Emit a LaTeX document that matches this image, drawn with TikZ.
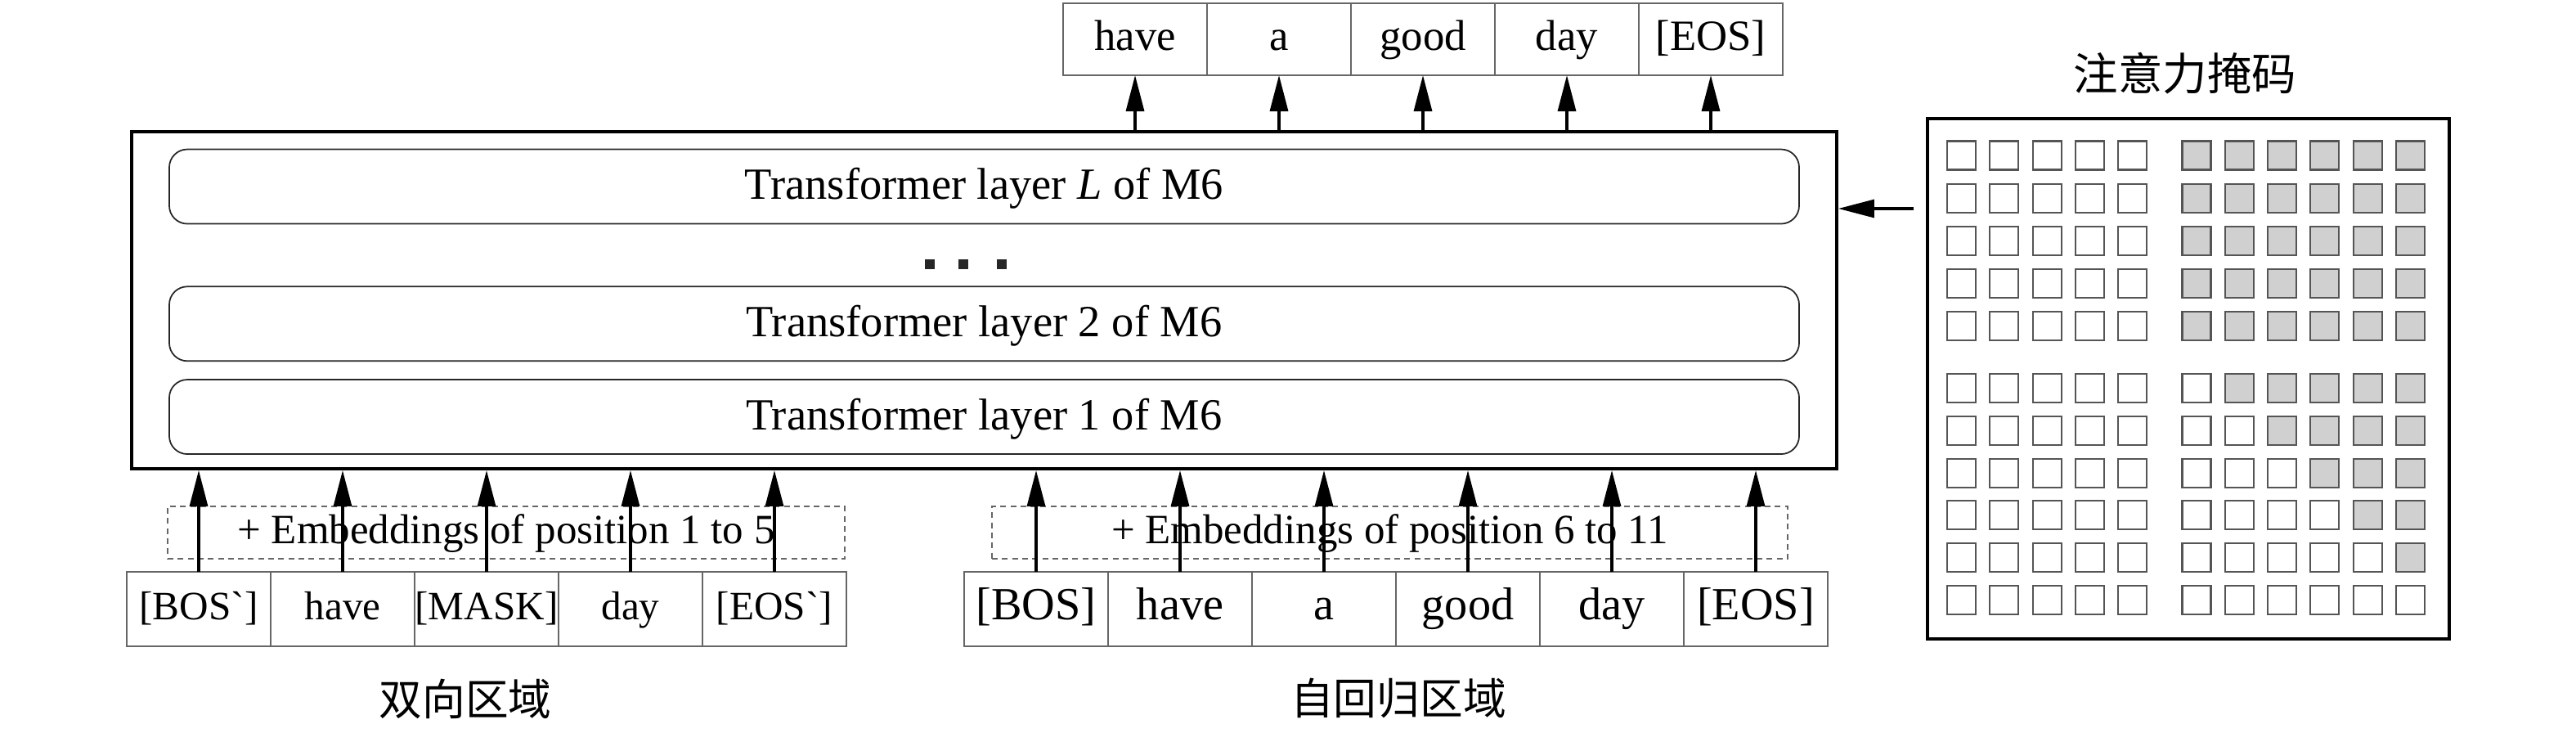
\documentclass[tikz,border=0pt]{standalone}
\usepackage{fontspec}
\setmainfont{Liberation Serif}
\newfontfamily\cjk{Noto Sans CJK SC}
\usetikzlibrary{arrows.meta, positioning, calc}

\definecolor{maskgray}{RGB}{208,208,208}
\definecolor{cellline}{RGB}{85,85,85}

\begin{document}
\begin{tikzpicture}[
    model/.style={draw, line width=1.1pt, inner sep=0pt, minimum width=20.85cm, minimum height=4.12cm},
    layerbox/.style={draw=black!85, line width=0.5pt, rounded corners=0.22cm, inner sep=0pt,
        minimum width=19.93cm, minimum height=0.91cm, text height=0.9em, text depth=0pt,
        font=\fontsize{15.5}{18}\selectfont},
    tok/.style={draw=black!60, line width=0.5pt, inner sep=0pt, outer sep=0pt,
        minimum width=1.76cm, minimum height=0.88cm, text height=0.95em, text depth=0.2em},
    outtok/.style={tok, font=\fontsize{15}{18}\selectfont},
    bitok/.style={tok, minimum height=0.91cm, font=\fontsize{14}{17}\selectfont},
    artok/.style={tok, minimum height=0.91cm, font=\fontsize{16}{19}\selectfont},
    embed/.style={draw=black!60, line width=0.4pt, dash pattern=on 2pt off 1.5pt, inner sep=0pt,
        minimum height=0.64cm, text height=0.95em, text depth=0.2em, font=\fontsize{14.5}{17}\selectfont},
    region/.style={font=\cjk\fontsize{15}{18}\selectfont},
    maskbox/.style={draw, line width=1.1pt, inner sep=0pt, minimum width=6.38cm, minimum height=6.36cm},
    cell/.style={draw=cellline, line width=0.6pt},
    arrow/.style={-{Triangle[length=0.44cm, width=0.22cm]}, line width=0.9pt}
]
\useasboundingbox (0,0) rectangle (31.5,-9.06);

% M6 model with its layers
\node[model] (model) at (12.035,-3.67) {};
\node[layerbox, above=0.19cm of model.south] (layer1) {Transformer layer 1 of M6};
\node[layerbox, above=0.21cm of layer1] (layer2) {Transformer layer 2 of M6};
\node[layerbox, above=0.75cm of layer2] (layerL) {Transformer layer \textit{L} of M6};
\foreach \i/\x in {0/11.37, 1/11.78, 2/12.245}
    \node[fill=black!85, inner sep=0pt, minimum size=0.12cm] (dot\i) at (\x,-3.23) {};

% outputs
\node[outtok, anchor=north west] (out1) at (13.00,-0.04) {have};
\node[outtok, right=0pt of out1] (out2) {a};
\node[outtok, right=0pt of out2] (out3) {good};
\node[outtok, right=0pt of out3] (out4) {day};
\node[outtok, right=0pt of out4] (out5) {[EOS]};

% bidirectional inputs
\node[embed, minimum width=8.28cm] (emb1) at (6.19,-6.51) {+ Embeddings of position 1 to 5};
\node[bitok, anchor=north west] (in1) at (1.55,-6.99) {[BOS\textasciigrave]};
\node[bitok, right=0pt of in1] (in2) {have};
\node[bitok, right=0pt of in2] (in3) {[MASK]};
\node[bitok, right=0pt of in3] (in4) {day};
\node[bitok, right=0pt of in4] (in5) {[EOS\textasciigrave]};
\node[region] (bilabel) at (5.69,-8.54) {双向区域};

% autoregressive inputs
\node[embed, minimum width=9.73cm] (emb2) at (16.995,-6.51) {+ Embeddings of position 6 to 11};
\node[artok, anchor=north west] (ar1) at (11.79,-6.99) {[BOS]};
\node[artok, right=0pt of ar1] (ar2) {have};
\node[artok, right=0pt of ar2] (ar3) {a};
\node[artok, right=0pt of ar3] (ar4) {good};
\node[artok, right=0pt of ar4] (ar5) {day};
\node[artok, right=0pt of ar5] (ar6) {[EOS]};
\node[region] (arlabel) at (17.10,-8.54) {自回归区域};

% attention mask
\node[maskbox] (mask) at (26.76,-4.63) {};
\node[region, font=\cjk\fontsize{15.5}{18}\selectfont] (masktitle) at (26.72,-0.90) {注意力掩码};
\begin{scope}[shift={(mask.center)}]
    \foreach \r in {0,...,4} {
        \foreach \c in {0,...,4}
            \draw[cell] (-2.775+0.523*\c, 2.73-0.521*\r) ++(-0.175,-0.175) rectangle ++(0.35,0.35);
        \foreach \c in {0,...,5}
            \draw[cell, fill=maskgray] (0.10+0.523*\c, 2.73-0.521*\r) ++(-0.175,-0.175) rectangle ++(0.35,0.35);
    }
    \foreach \r in {0,...,5} {
        \foreach \c in {0,...,4}
            \draw[cell] (-2.775+0.523*\c, -0.115-0.518*\r) ++(-0.175,-0.175) rectangle ++(0.35,0.35);
        \foreach \c in {0,...,5} {
            \ifnum\c>\r \def\cellfill{maskgray}\else\def\cellfill{white}\fi
            \draw[cell, fill=\cellfill] (0.10+0.523*\c, -0.115-0.518*\r) ++(-0.175,-0.175) rectangle ++(0.35,0.35);
        }
    }
\end{scope}

% connections
\draw[arrow] (model.north -| out1) -- (out1.south);
\draw[arrow] (model.north -| out2) -- (out2.south);
\draw[arrow] (model.north -| out3) -- (out3.south);
\draw[arrow] (model.north -| out4) -- (out4.south);
\draw[arrow] (model.north -| out5) -- (out5.south);

\draw[arrow] (in1.north) -- (in1.north |- model.south);
\draw[arrow] (in2.north) -- (in2.north |- model.south);
\draw[arrow] (in3.north) -- (in3.north |- model.south);
\draw[arrow] (in4.north) -- (in4.north |- model.south);
\draw[arrow] (in5.north) -- (in5.north |- model.south);

\draw[arrow] (ar1.north) -- (ar1.north |- model.south);
\draw[arrow] (ar2.north) -- (ar2.north |- model.south);
\draw[arrow] (ar3.north) -- (ar3.north |- model.south);
\draw[arrow] (ar4.north) -- (ar4.north |- model.south);
\draw[arrow] (ar5.north) -- (ar5.north |- model.south);
\draw[arrow] (ar6.north) -- (ar6.north |- model.south);

\coordinate (maskin) at ($(mask.west)+(-0.15,2.08)$);
\draw[arrow] (maskin) -- (maskin -| model.east);

\end{tikzpicture}
\end{document}
